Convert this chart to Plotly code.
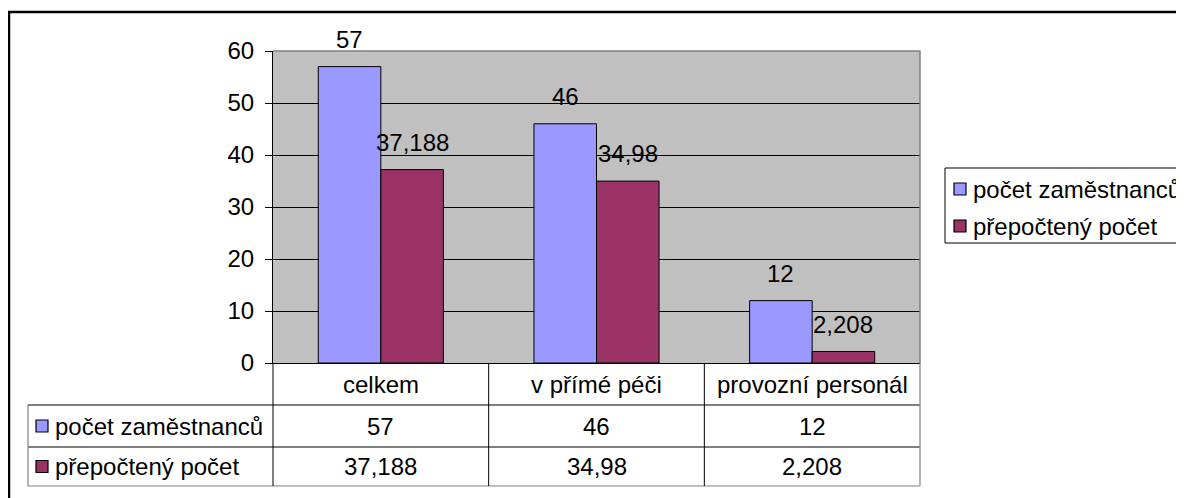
import plotly.graph_objects as go

categories = ["celkem", "v přímé péči", "provozní personál"]
series_names = ["počet zaměstnanců", "přepočtený počet"]
pocet_zamestnancu = [57, 46, 12]
prepocteny_pocet = [37.188, 34.98, 2.208]
y_ticks = [0, 10, 20, 30, 40, 50, 60]

series_values = [pocet_zamestnancu, prepocteny_pocet]
colors = ["#9999FF", "#993366"]

# the page body has an 8px margin; window is 1184x498
OFF = 8
WIN_W, WIN_H = 1184, 498
W, H = WIN_W - OFF, WIN_H - OFF
# plot area in window pixels: x 273..920, y 51..363
PX0, PX1, PY0, PY1 = 273, 920, 51, 363
L, R, T, B = PX0 - OFF, W - (PX1 - OFF), PY0 - OFF, H - (PY1 - OFF)
PW, PH = PX1 - PX0, PY1 - PY0
FONT = "Liberation Sans, Arial, sans-serif"
FS = 24
BARGAP = 0.42


def fmt(v):
    return f"{v:g}".replace(".", ",")


def pxx(p):  # window pixel x -> paper x
    return (p - PX0) / PW


def pxy(p):  # window pixel y -> paper y
    return (PY1 - p) / PH


fig = go.Figure()
for name, vals, col in zip(series_names, series_values, colors):
    fig.add_trace(go.Bar(
        x=categories, y=vals, name=name,
        marker=dict(color=col, line=dict(color="black", width=1)),
        showlegend=False, hoverinfo="x+y",
    ))

annotations = []
shapes = []

# data labels above bars
half = (1 - BARGAP) / 2
for s, vals in enumerate(series_values):
    off = (s - 0.5) * half
    for i, v in enumerate(vals):
        annotations.append(dict(
            x=i + off, y=v, xref="x", yref="y", text=fmt(v),
            showarrow=False, yanchor="bottom", yshift=12,
            font=dict(family=FONT, size=FS, color="black"),
        ))

# plot area border (gray) top/right
shapes.append(dict(type="path", xref="paper", yref="paper",
                   path="M 0 1 L 1 1 L 1 0",
                   line=dict(color="#808080", width=1.5), layer="above"))

# outer chart frame (left & top, extending beyond the window)
shapes.append(dict(type="path", xref="paper", yref="paper",
                   path=f"M {pxx(9)} {pxy(520)} L {pxx(9)} {pxy(12)} L {pxx(1200)} {pxy(12)}",
                   line=dict(color="black", width=2.5)))

# data table
col_edges = [PX0 + k * PW / 3 for k in range(4)]
row_y = [PY1, 405, 447, 486]
tbl_left = 28
black = dict(color="black", width=1)
gray = dict(color="#808080", width=1.2)
for r in (1, 2):
    shapes.append(dict(type="line", xref="paper", yref="paper",
                       x0=pxx(tbl_left), x1=pxx(col_edges[-1]), y0=pxy(row_y[r]), y1=pxy(row_y[r]), line=black))
shapes.append(dict(type="line", xref="paper", yref="paper",
                   x0=pxx(tbl_left), x1=pxx(col_edges[-1]), y0=pxy(row_y[3]), y1=pxy(row_y[3]), line=gray))
for k, xe in enumerate(col_edges):
    shapes.append(dict(type="line", xref="paper", yref="paper",
                       x0=pxx(xe), x1=pxx(xe), y0=pxy(row_y[0]), y1=pxy(row_y[3]),
                       line=gray if k == 3 else black))
shapes.append(dict(type="line", xref="paper", yref="paper",
                   x0=pxx(tbl_left), x1=pxx(tbl_left), y0=pxy(row_y[1]), y1=pxy(row_y[3]), line=gray))

# category labels
for i, c in enumerate(categories):
    annotations.append(dict(x=i, y=pxy((row_y[0] + row_y[1]) / 2), xref="x", yref="paper",
                            text=c, showarrow=False, yanchor="middle",
                            font=dict(family=FONT, size=FS, color="black")))
# value rows with keys
for s, (name, vals, col) in enumerate(zip(series_names, series_values, colors)):
    yc = (row_y[s + 1] + row_y[s + 2]) / 2
    for i, v in enumerate(vals):
        annotations.append(dict(x=i, y=pxy(yc), xref="x", yref="paper",
                                text=fmt(v), showarrow=False, yanchor="middle",
                                font=dict(family=FONT, size=FS, color="black")))
    shapes.append(dict(type="rect", xref="paper", yref="paper",
                       x0=pxx(36), x1=pxx(48), y0=pxy(yc - 6), y1=pxy(yc + 6),
                       fillcolor=col, line=dict(color="black", width=1.2)))
    annotations.append(dict(x=pxx(53), y=pxy(yc), xref="paper", yref="paper",
                            text=name, showarrow=False, xanchor="left", yanchor="middle",
                            font=dict(family=FONT, size=FS, color="black")))

# legend box (manual)
shapes.append(dict(type="rect", xref="paper", yref="paper",
                   x0=pxx(945), x1=pxx(1200), y0=pxy(243), y1=pxy(168),
                   line=dict(color="black", width=1), fillcolor="white"))
for s, (name, col) in enumerate(zip(series_names, colors)):
    yc = 189 + s * 37
    shapes.append(dict(type="rect", xref="paper", yref="paper",
                       x0=pxx(954), x1=pxx(966), y0=pxy(yc - 6), y1=pxy(yc + 6),
                       fillcolor=col, line=dict(color="black", width=1.2)))
    annotations.append(dict(x=pxx(971), y=pxy(yc), xref="paper", yref="paper",
                            text=name, showarrow=False, xanchor="left", yanchor="middle",
                            font=dict(family=FONT, size=FS, color="black")))

fig.update_layout(
    width=W, height=H,
    margin=dict(l=L, r=R, t=T, b=B, pad=0),
    paper_bgcolor="white", plot_bgcolor="#C0C0C0",
    barmode="group", bargap=BARGAP, bargroupgap=0,
    font=dict(family=FONT, size=FS, color="black"),
    showlegend=False,
    annotations=annotations, shapes=shapes,
    xaxis=dict(type="category", showticklabels=False, ticks="", showgrid=False,
               showline=True, linecolor="black", linewidth=1, zeroline=False,
               fixedrange=True),
    yaxis=dict(range=[0, 60], tickvals=y_ticks, ticks="outside", ticklen=7,
               tickcolor="black", tickwidth=1, showline=True, linecolor="black",
               linewidth=1, gridcolor="black", gridwidth=1, zeroline=False,
               ticklabelstandoff=6, tickfont=dict(family=FONT, size=FS, color="black"),
               fixedrange=True),
)

fig.write_html("out.html")
